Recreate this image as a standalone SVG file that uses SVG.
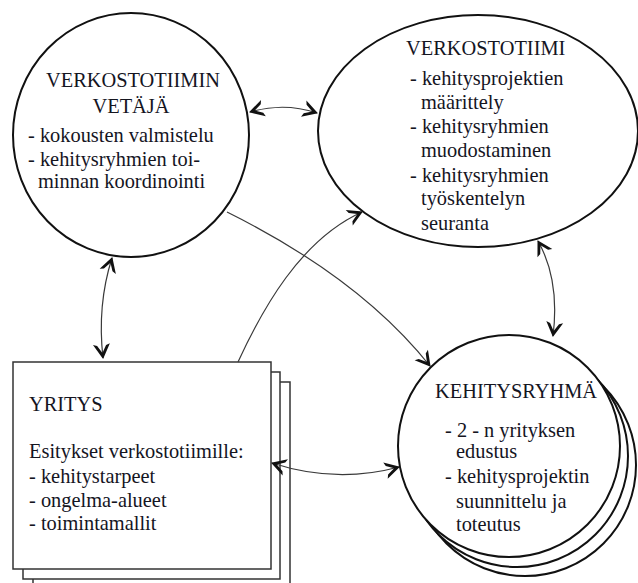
<svg xmlns="http://www.w3.org/2000/svg" width="638" height="583" viewBox="0 0 638 583">
  <style>
    .node { fill: #ffffff; stroke: #111111; stroke-width: 2; }
    .sheet { fill: #ffffff; stroke: #333333; stroke-width: 1.5; }
    .link { fill: none; stroke: #3a3a3a; stroke-width: 1.2; }
  </style>
  <defs>
    <marker id="barb" viewBox="-15 -10 17 20" markerWidth="17" markerHeight="20" refX="0" refY="0" markerUnits="userSpaceOnUse" orient="auto-start-reverse">
      <path d="M1,0 L-14,-8.5 L-12.5,-4.5 L-5,0 L-12.5,4.5 L-14,8.5 Z" fill="#111111"/>
    </marker>
  </defs>

  <rect width="638" height="583" fill="#ffffff"/>

  <!-- Network team leader -->
  <g id="vetaja" font-family="Liberation Serif, serif" font-size="20.4" fill="#15151f">
    <ellipse class="node" cx="131" cy="135" rx="118" ry="122"/>
    <text text-anchor="middle" x="133" y="87">VERKOSTOTIIMIN</text>
    <text text-anchor="middle" x="131" y="113">VETÄJÄ</text>
    <text x="28" y="142">- kokousten valmistelu</text>
    <text x="28" y="166">- kehitysryhmien toi-</text>
    <text x="38" y="188">minnan koordinointi</text>
  </g>

  <!-- Network team -->
  <g id="verkostotiimi" font-family="Liberation Serif, serif" font-size="20.4" fill="#15151f">
    <ellipse class="node" cx="478" cy="131" rx="160" ry="116"/>
    <text x="406" y="55">VERKOSTOTIIMI</text>
    <text x="410" y="85">- kehitysprojektien</text>
    <text x="421" y="109">määrittely</text>
    <text x="410" y="133">- kehitysryhmien</text>
    <text x="421" y="157">muodostaminen</text>
    <text x="410" y="182">- kehitysryhmien</text>
    <text x="421" y="205">työskentelyn</text>
    <text x="421" y="230">seuranta</text>
  </g>

  <!-- Company (stack of sheets) -->
  <g id="yritys" font-family="Liberation Serif, serif" font-size="20.4" fill="#15151f">
    <rect class="sheet" x="33" y="382" width="257" height="215"/>
    <rect class="sheet" x="23" y="372" width="257" height="207"/>
    <rect class="sheet" x="13" y="362" width="258" height="207"/>
    <text x="29" y="411">YRITYS</text>
    <text x="29" y="458">Esitykset verkostotiimille:</text>
    <text x="29" y="483">- kehitystarpeet</text>
    <text x="29" y="507">- ongelma-alueet</text>
    <text x="29" y="530">- toimintamallit</text>
  </g>

  <!-- Development group (stack of circles) -->
  <g id="kehitysryhma" font-family="Liberation Serif, serif" font-size="20.4" fill="#15151f">
    <circle class="node" cx="525" cy="465" r="111"/>
    <circle class="node" cx="517" cy="456" r="111"/>
    <circle class="node" cx="509" cy="446" r="111"/>
    <text x="435" y="398">KEHITYSRYHMÄ</text>
    <text x="445" y="437">- 2 - n yrityksen</text>
    <text x="456" y="458">edustus</text>
    <text x="445" y="483">- kehitysprojektin</text>
    <text x="456" y="508">suunnittelu ja</text>
    <text x="456" y="531">toteutus</text>
  </g>

  <!-- Connectors -->
  <g id="connectors">
    <path class="link" d="M250,112 Q284,102 317,113" marker-start="url(#barb)" marker-end="url(#barb)"/>
    <path class="link" d="M112,258 Q97,305 103,358" marker-start="url(#barb)" marker-end="url(#barb)"/>
    <path class="link" d="M238,362 C262,310 300,240 362,212" marker-end="url(#barb)"/>
    <path class="link" d="M227,212 Q360,278 430,366" marker-end="url(#barb)"/>
    <path class="link" d="M272,463 Q336,484 399,467" marker-start="url(#barb)" marker-end="url(#barb)"/>
    <path class="link" d="M538,241 Q560,280 553,336" marker-start="url(#barb)" marker-end="url(#barb)"/>
  </g>
</svg>
